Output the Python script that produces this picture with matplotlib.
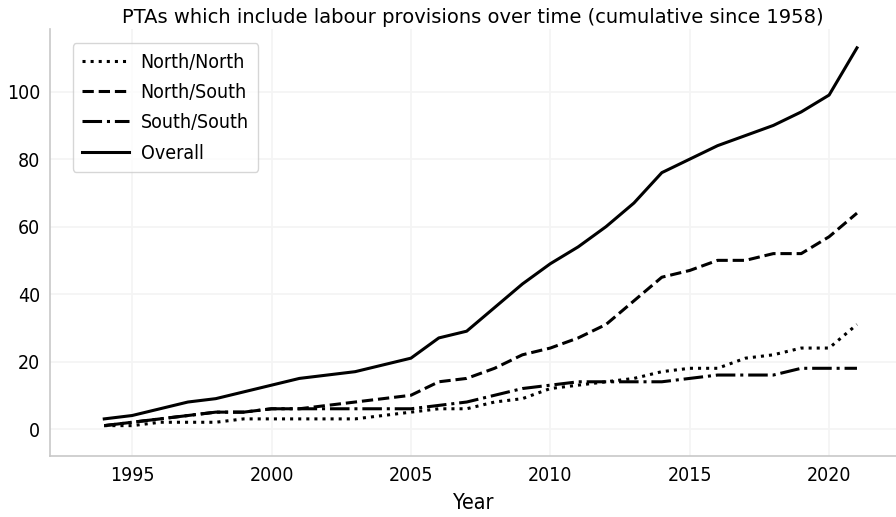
import matplotlib
matplotlib.use("Agg")
import matplotlib.pyplot as plt
from matplotlib import font_manager

years = list(range(1994, 2022))

north_north = [1, 1, 2, 2, 2, 3, 3, 3, 3, 3, 4, 5, 6, 6, 8, 9, 12, 13, 14, 15,
               17, 18, 18, 21, 22, 24, 24, 31]
north_south = [1, 2, 3, 4, 5, 5, 6, 6, 7, 8, 9, 10, 14, 15, 18, 22, 24, 27, 31, 38,
               45, 47, 50, 50, 52, 52, 57, 64]
south_south = [1, 2, 3, 4, 5, 5, 6, 6, 6, 6, 6, 6, 7, 8, 10, 12, 13, 14, 14, 14,
               14, 15, 16, 16, 16, 18, 18, 18]
overall = [3, 4, 6, 8, 9, 11, 13, 15, 16, 17, 19, 21, 27, 29, 36, 43, 49, 54, 60, 67,
           76, 80, 84, 87, 90, 94, 99, 113]

series = [
    ("North/North", north_north, ":"),
    ("North/South", north_south, "--"),
    ("South/South", south_south, "-."),
    ("Overall", overall, "-"),
]

plt.rcParams["font.family"] = ["DejaVu Sans"]

# narrow face for ticks and legend
narrow = font_manager.FontProperties(family="DejaVu Sans", stretch="condensed", size=14)

fig = plt.figure(figsize=(8.96, 5.17), dpi=100)
ax = fig.add_axes([0.056, 0.118, 0.944, 0.826])

for label, values, style in series:
    ax.plot(years, values, linestyle=style, color="black", linewidth=2.2, label=label)

ax.set_xlim(1992.06, 2022.4)
ax.set_ylim(-8, 118.6)
ax.set_xticks([1995, 2000, 2005, 2010, 2015, 2020])
ax.set_yticks([0, 20, 40, 60, 80, 100])
ax.tick_params(axis="both", length=0, pad=7)
for lbl in ax.get_xticklabels() + ax.get_yticklabels():
    lbl.set_fontproperties(narrow)

ax.grid(True, color="#f4f4f4", linewidth=1.2)
ax.set_axisbelow(True)
for side in ("top", "right"):
    ax.spines[side].set_visible(False)
for side in ("left", "bottom"):
    ax.spines[side].set_color("#c8c8c8")
    ax.spines[side].set_linewidth(1.2)

ax.set_xlabel("Year", fontproperties=font_manager.FontProperties(
    family="DejaVu Sans", stretch="condensed", size=15.5), labelpad=6)
ax.set_title("PTAs which include labour provisions over time (cumulative since 1958)",
             fontsize=14, pad=4)

leg = ax.legend(loc="upper left", prop=narrow, frameon=True, fancybox=True,
                handlelength=2.4, handletextpad=0.6, borderpad=0.5, labelspacing=0.58,
                bbox_to_anchor=(0.015, 0.99))
leg.get_frame().set_edgecolor("#cccccc")
leg.get_frame().set_linewidth(1.0)

fig.savefig("out.png", dpi=100)
